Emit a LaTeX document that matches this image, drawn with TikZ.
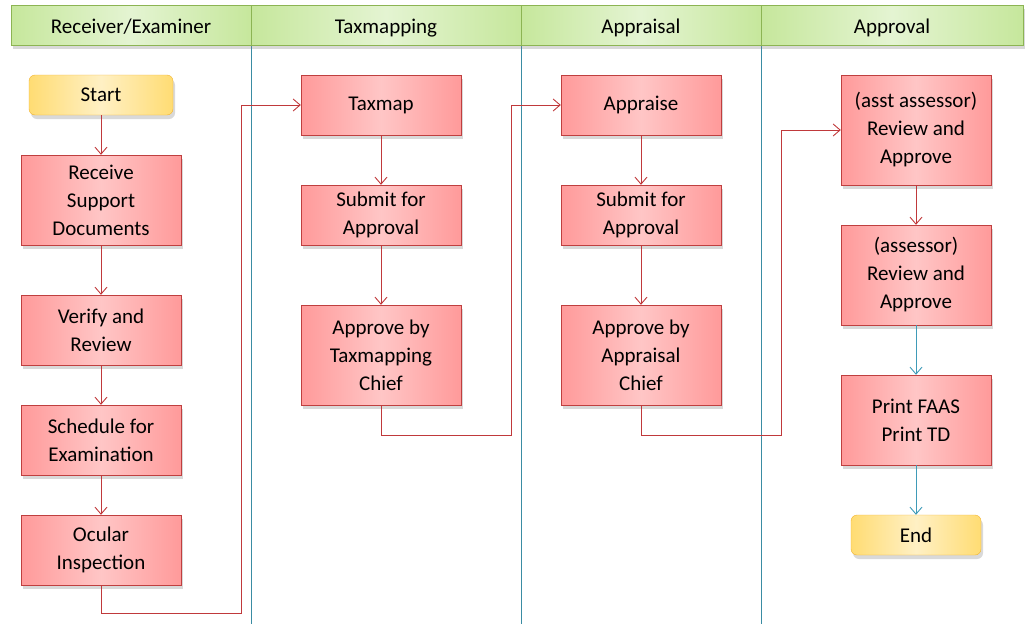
\documentclass[tikz,border=0pt]{standalone}
\usepackage{fontspec}
\setmainfont{Carlito}
\usetikzlibrary{arrows.meta,shadows}

\definecolor{taskedge}{HTML}{FF9A9A}
\definecolor{taskmid}{HTML}{FFC6C6}
\definecolor{taskline}{HTML}{BF3F3F}
\definecolor{termedge}{HTML}{FFDC73}
\definecolor{termmid}{HTML}{FFF0C4}
\definecolor{termline}{HTML}{F2B330}
\definecolor{laneedge}{HTML}{C6E79C}
\definecolor{lanemid}{HTML}{E4F4D2}
\definecolor{laneline}{HTML}{8CB453}
\definecolor{flowred}{HTML}{C0393B}
\definecolor{flowblue}{HTML}{3F9BB8}
\definecolor{divider}{HTML}{3A8CA3}

\begin{document}
\begin{tikzpicture}[x=1pt,y=-1pt,
  every path/.style={>={Straight Barb[length=7pt,width=12pt]}},
  every node/.style={draw,rectangle,align=center,inner sep=0pt,font=\fontsize{21}{28}\selectfont},
  lane/.style={draw=laneline,left color=laneedge,right color=laneedge,middle color=lanemid,
    minimum height=40,text height=18pt,text depth=2pt,
    drop shadow={opacity=0.3,shadow xshift=2pt,shadow yshift=-4pt}},
  task/.style={draw=taskline,left color=taskedge,right color=taskedge,middle color=taskmid,
    minimum width=160,drop shadow={opacity=0.3,shadow xshift=2pt,shadow yshift=-4pt}},
  term/.style={draw=termline,left color=termedge,right color=termedge,middle color=termmid,
    rounded corners=6pt,minimum height=40,drop shadow={opacity=0.3,shadow xshift=2pt,shadow yshift=-4pt}},
  flow/.style={draw=flowred,line width=0.9pt},
  flowb/.style={draw=flowblue,line width=0.9pt},
  sep/.style={draw=divider,line width=0.9pt}]
\useasboundingbox (0,0) rectangle (1033,624);
% lane dividers
\draw[sep] (251,45) -- (251,624);
\draw[sep] (521,45) -- (521,624);
\draw[sep] (761,45) -- (761,624);
% lane headers
\node[lane,minimum width=240] (hrecv) at (131,25) {Receiver/Examiner};
\node[lane,minimum width=270] (htax)  at (386,25) {Taxmapping};
\node[lane,minimum width=240] (happ)  at (641,25) {Appraisal};
\node[lane,minimum width=262] (hapv)  at (892,25) {Approval};
% receiver/examiner
\node[term,minimum width=144]      (start)  at (101,95)  {Start};
\node[task,minimum height=90]      (recv)   at (101,200) {Receive\\Support\\Documents};
\node[task,minimum height=70]      (verify) at (101,330) {Verify and\\Review};
\node[task,minimum height=70]      (sched)  at (101,440) {Schedule for\\Examination};
\node[task,minimum height=70]      (ocular) at (101,550) {Ocular\\Inspection};
% taxmapping
\node[task,minimum height=60]      (taxmap) at (381,105) {Taxmap};
\node[task,minimum height=60]      (tsub)   at (381,215) {Submit for\\Approval};
\node[task,minimum height=100]     (tchief) at (381,355) {Approve by\\Taxmapping\\Chief};
% appraisal
\node[task,minimum height=60]      (appr)   at (641,105) {Appraise};
\node[task,minimum height=60]      (asub)   at (641,215) {Submit for\\Approval};
\node[task,minimum height=100]     (achief) at (641,355) {Approve by\\Appraisal\\Chief};
% approval
\node[task,minimum width=150,minimum height=110] (asst)  at (916,130) {(asst assessor)\\Review and\\Approve};
\node[task,minimum width=150,minimum height=100] (assr)  at (916,275) {(assessor)\\Review and\\Approve};
\node[task,minimum width=150,minimum height=90]  (print) at (916,420) {Print FAAS\\Print TD};
\node[term,minimum width=130]                    (end)   at (916,535) {End};
% bends between lanes
\coordinate (j1) at (241,613);
\coordinate (j2) at (511,435);
\coordinate (j3) at (781,435);
\draw[->,flow]  (start)  edge (recv);
\draw[->,flow]  (recv)   edge (verify);
\draw[->,flow]  (verify) edge (sched);
\draw[->,flow]  (sched)  edge (ocular);
\draw[->,flow]  (ocular) |- (j1) |- (taxmap);
\draw[->,flow]  (taxmap) edge (tsub);
\draw[->,flow]  (tsub)   edge (tchief);
\draw[->,flow]  (tchief) |- (j2) |- (appr);
\draw[->,flow]  (appr)   edge (asub);
\draw[->,flow]  (asub)   edge (achief);
\draw[->,flow]  (achief) |- (j3) |- (asst);
\draw[->,flow]  (asst)   edge (assr);
\draw[->,flowb] (assr)   edge (print);
\draw[->,flowb] (print)  edge (end);
\end{tikzpicture}
\end{document}
